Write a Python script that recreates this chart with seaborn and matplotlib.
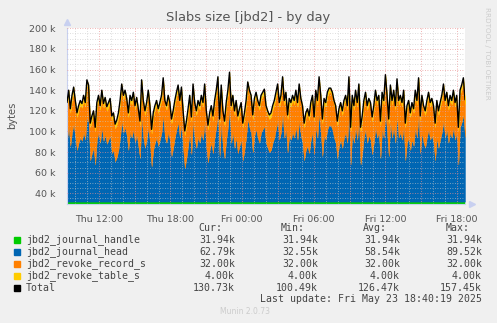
import numpy as np
import pandas as pd
import matplotlib
matplotlib.use("Agg")
import matplotlib.pyplot as plt
import seaborn as sns
from matplotlib.ticker import FixedLocator, MultipleLocator
from matplotlib.patches import Rectangle

# ---- data (values in thousands of bytes) ----
handle_k = 31.94
record_k = 32.00
table_k = 4.00

total_k = [
    128, 140, 122, 135, 143, 130, 118, 125, 130, 127, 135, 128, 150, 145, 108, 115, 120, 104, 128, 135,
    125, 140, 127, 133, 124, 128, 132, 115, 118, 107, 111, 118, 130, 146, 135, 140, 132, 118, 135,
    130, 138, 125, 133, 122, 110, 150, 130, 120, 128, 140, 125, 102, 118, 125, 130, 122, 128, 135, 152,
    130, 125, 135, 128, 112, 120, 130, 138, 145, 130, 143, 120, 100.49, 110, 122, 135, 114, 146, 128, 120,
    130, 125, 135, 128, 146, 120, 106, 118, 125, 115, 130, 140, 153, 112, 145, 120, 110, 128, 140, 157.45,
    125, 135, 120, 130, 115, 122, 128, 108, 118, 130, 148, 140, 135, 116, 132, 138, 130, 125, 135, 138,
    141, 125, 120, 116, 118, 125, 130, 138, 146, 128, 135, 153, 130, 138, 116, 132, 128, 135, 130, 140,
    128, 146, 132, 125, 108, 118, 122, 115, 128, 135, 114, 140, 130, 153, 135, 112, 132, 128, 138, 142,
    142, 138, 130, 125, 110, 122, 128, 120, 130, 135, 125, 153, 104, 135, 125, 140, 128, 146, 104, 115,
    130, 138, 125, 132, 128, 114, 125, 140, 130, 135, 110, 138, 130, 155, 135, 112, 145, 130, 140, 125,
    151, 130, 135, 128, 140, 108, 125, 130, 118, 128, 122, 140, 130, 152, 115, 135, 125, 120, 130, 138,
    128, 132, 125, 108, 130, 120, 128, 135, 146, 130, 138, 125, 135, 130, 140, 128, 135, 104, 140, 145,
    152, 130.73,
]

series_names = ["jbd2_journal_handle", "jbd2_journal_head", "jbd2_revoke_record_s",
                "jbd2_revoke_table_s", "Total"]
series_colors = ["#00CC00", "#0066B3", "#FF8000", "#FFCC00", "#000000"]
cur_vals = ["31.94k", "62.79k", "32.00k", "4.00k", "130.73k"]
min_vals = ["31.94k", "32.55k", "32.00k", "4.00k", "100.49k"]
avg_vals = ["31.94k", "58.54k", "32.00k", "4.00k", "126.47k"]
max_vals = ["31.94k", "89.52k", "32.00k", "4.00k", "157.45k"]

x_tick_hours = [12, 18, 24, 30, 36, 42]
x_tick_labels = ["Thu 12:00", "Thu 18:00", "Fri 00:00", "Fri 06:00", "Fri 12:00", "Fri 18:00"]
y_ticks = [40, 60, 80, 100, 120, 140, 160, 180, 200]

# time window: Thu 09:20 .. Fri 18:40, hours since Thu 00:00
t_start = 9 + 20 / 60
t_end = 42 + 40 / 60

total = np.array(total_k, dtype=float)
head = total - handle_k - record_k - table_k
n = len(total)
t = np.linspace(t_start, t_end, n)

df = pd.DataFrame({"t": t, "Total": total})

# ---- figure ----
W, H = 497, 323
fig = plt.figure(figsize=(W / 100, H / 100), dpi=100, facecolor="#F0F0F0")
sns.set_style("white")
plt.rcParams['font.family'] = ['DejaVu Sans']

def fx(px):
    return px / W

def fy(py):
    return 1 - py / H

ax_l, ax_r, ax_t, ax_b = 67, 465, 28.3, 203.6
ax = fig.add_axes([fx(ax_l), fy(ax_b), fx(ax_r - ax_l), (ax_b - ax_t) / H])
ax.set_facecolor("white")

lvl0 = np.zeros(n)
lvl1 = lvl0 + handle_k
lvl2 = lvl1 + head
lvl3 = lvl2 + record_k
lvl4 = lvl3 + table_k
levels = [lvl0, lvl1, lvl2, lvl3, lvl4]
for i in range(4):
    ax.fill_between(t, levels[i], levels[i + 1], color=series_colors[i],
                    linewidth=0.3, edgecolor=series_colors[i], zorder=1)

sns.lineplot(data=df, x="t", y="Total", ax=ax, color="black", linewidth=1.0, zorder=4)

ax.set_xlim(t_start, t_end)
ax.set_ylim(30, 200)

# grid: minor every hour / 5k, major every 3 hours / 20k
major_hours = list(np.arange(12, 43, 3))
ax.xaxis.set_major_locator(FixedLocator(major_hours))
ax.xaxis.set_minor_locator(MultipleLocator(1))
ax.yaxis.set_major_locator(FixedLocator(y_ticks))
ax.yaxis.set_minor_locator(MultipleLocator(5))
ax.set_axisbelow(False)
ax.grid(which="minor", color="#C8C8C8", linestyle=(0, (1, 2)), linewidth=0.6, alpha=0.8, zorder=2)
ax.grid(which="major", color="#E89090", linestyle=(0, (1, 2)), linewidth=0.6, alpha=0.9, zorder=2)

ax.set_xticks(major_hours)
ax.set_xticklabels([x_tick_labels[x_tick_hours.index(h)] if h in x_tick_hours else ""
                    for h in major_hours])
ax.set_yticks(y_ticks)
ax.set_yticklabels([f"{v} k" for v in y_ticks])
ax.tick_params(axis="both", which="major", labelsize=6.8, labelcolor="#555555",
               color="#E89090", length=2, width=0.6, direction="out", pad=6)
ax.tick_params(axis="both", which="minor", color="#C8C8C8", length=2, width=0.6, direction="out")
ax.set_xlabel("")
ax.set_ylabel("")

for s in ["top", "right"]:
    ax.spines[s].set_visible(False)
ax.spines["left"].set_color("#C8D0F0")
ax.spines["bottom"].set_color("#C8D0F0")
ax.spines["left"].set_linewidth(0.8)
ax.spines["bottom"].set_linewidth(0.8)

# axis arrows
ax.plot([0], [1.035], marker="^", markersize=4.5, color="#C8D0F0", transform=ax.transAxes,
        clip_on=False)
ax.plot([1.018], [0], marker=">", markersize=4.5, color="#C8D0F0", transform=ax.transAxes,
        clip_on=False)

# ---- texts ----
fig.text(fx(248), fy(18), "Slabs size [jbd2] - by day", ha="center", va="center",
         fontsize=9.4, color="#555555")
fig.text(fx(12), fy(115), "bytes", ha="center", va="center", rotation=90,
         fontsize=7.2, color="#555555")
fig.text(fx(487), fy(53), "RRDTOOL / TOBI OETIKER", ha="center", va="center", rotation=270,
         fontsize=5.2, color="#CCCCCC")
fig.text(fx(245.5), fy(312), "Munin 2.0.73", ha="center", va="center",
         fontsize=5.5, color="#CCCCCC")

mono = dict(family="DejaVu Sans Mono", fontsize=7.1, color="#444444", va="center")
fig.text(fx(222), fy(228), "Cur:", ha="right", **mono)
fig.text(fx(305), fy(228), "Min:", ha="right", **mono)
fig.text(fx(387), fy(228), "Avg:", ha="right", **mono)
fig.text(fx(470), fy(228), "Max:", ha="right", **mono)

row_y = [240, 252, 264, 276, 288]
for i, name in enumerate(series_names):
    y = row_y[i]
    fig.patches.append(Rectangle((fx(14), fy(y + 2.8)), fx(5.6), 5.6 / H,
                                 transform=fig.transFigure, color=series_colors[i]))
    fig.text(fx(26), fy(y), name, ha="left", **mono)
    fig.text(fx(235), fy(y), cur_vals[i], ha="right", **mono)
    fig.text(fx(318), fy(y), min_vals[i], ha="right", **mono)
    fig.text(fx(400), fy(y), avg_vals[i], ha="right", **mono)
    fig.text(fx(482), fy(y), max_vals[i], ha="right", **mono)

fig.text(fx(482), fy(298.5), "Last update: Fri May 23 18:40:19 2025", ha="right", **mono)

fig.savefig("out.png", dpi=100, facecolor=fig.get_facecolor())
